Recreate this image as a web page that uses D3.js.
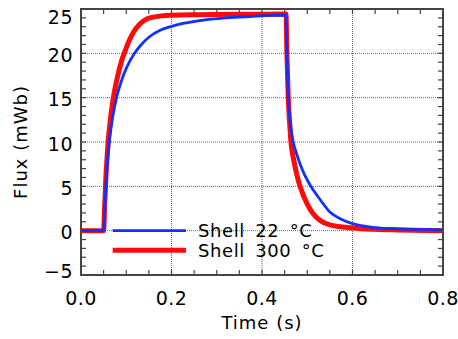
<!DOCTYPE html>
<html lang="en">
<head>
    <meta charset="UTF-8">
    <title>Flux vs Time</title>
    <script src="https://d3js.org/d3.v7.min.js"></script>
    <style>
        body { margin: 0; background: #fff; font-family: "DejaVu Sans", sans-serif; }
        .tick-label { font-size: 19px; fill: #000; letter-spacing: 0.5px; }
        .axis-title { font-size: 18px; fill: #000; letter-spacing: 1px; }
        .legend-text { font-size: 18px; fill: #000; letter-spacing: 0.6px; word-spacing: 4px; }
    </style>
</head>
<body>
    <svg id="chart" width="458" height="339"></svg>

    <script>
        // readings
        const blueTime = [0, 0.05, 0.053, 0.057, 0.0626, 0.07, 0.08, 0.09, 0.1, 0.1157, 0.13, 0.152, 0.175, 0.2, 0.263, 0.32, 0.373, 0.453,
                          0.455, 0.458, 0.463, 0.469, 0.475, 0.485, 0.495, 0.508, 0.53, 0.55, 0.575, 0.6, 0.65, 0.7, 0.8];
        const blueFlux = [0, 0, 3, 6.8, 10, 12.8, 15.3, 17.0, 18.3, 19.8, 20.8, 21.9, 22.6, 23.05, 23.7, 24.0, 24.15, 24.3,
                          20, 15, 12, 10, 8.9, 7.4, 6.2, 5, 3.4, 2.1, 1.3, 0.8, 0.35, 0.2, 0.1];
        const redTime = [0, 0.05, 0.052, 0.055, 0.06, 0.065, 0.0715, 0.08, 0.09, 0.097, 0.108, 0.115, 0.13, 0.152, 0.2, 0.263, 0.35, 0.453,
                         0.455, 0.458, 0.461, 0.464, 0.47, 0.477, 0.484, 0.5, 0.513, 0.53, 0.55, 0.6, 0.65, 0.7, 0.8];
        const redFlux = [0, 0, 2.5, 6, 10, 12.6, 15, 17.2, 19.2, 20.2, 21.6, 22.3, 23.3, 24.0, 24.3, 24.35, 24.4, 24.45,
                         20, 15, 12.2, 10, 8.0, 6.3, 5, 3.0, 1.9, 1.1, 0.65, 0.3, 0.15, 0.08, 0];
        const seriesNames = ["Shell 22 \u00B0C", "Shell 300 \u00B0C"];
        const seriesColors = ["#1030ff", "#ff0a0a"];
        const xTicks = [0, 0.2, 0.4, 0.6, 0.8];
        const yTicks = [-5, 0, 5, 10, 15, 20, 25];

        const svg = d3.select("#chart"),
              margin = { top: 9, right: 15, bottom: 64, left: 81 },
              width = +svg.attr("width"),
              height = +svg.attr("height");

        const x = d3.scaleLinear().domain([0, 0.8]).range([margin.left, width - margin.right]);
        const y = d3.scaleLinear().domain([-5, 25]).range([height - margin.bottom, margin.top]);

        const x0 = x.range()[0], x1 = x.range()[1], y0 = y.range()[0], y1 = y.range()[1];

        // dotted grid
        svg.append("g").selectAll("line")
            .data(xTicks.filter(d => d > 0 && d < 0.8))
            .join("line")
            .attr("x1", d => x(d)).attr("x2", d => x(d))
            .attr("y1", y1).attr("y2", y0)
            .attr("stroke", "#666").attr("stroke-width", 1).attr("stroke-dasharray", "1,1");
        svg.append("g").selectAll("line")
            .data(yTicks.filter(d => d > -5 && d < 25))
            .join("line")
            .attr("x1", x0).attr("x2", x1)
            .attr("y1", d => y(d)).attr("y2", d => y(d))
            .attr("stroke", "#666").attr("stroke-width", 1).attr("stroke-dasharray", "1,1");

        // inward ticks on all four sides
        const tl = 5;
        const xMinor = d3.range(0, 0.8001, 0.05);
        const yMinor = d3.range(-5, 25.001, 1);
        const tg = svg.append("g").attr("stroke", "#444").attr("stroke-width", 1.2);
        xMinor.forEach(t => {
            tg.append("line").attr("x1", x(t)).attr("x2", x(t)).attr("y1", y0).attr("y2", y0 - tl);
            tg.append("line").attr("x1", x(t)).attr("x2", x(t)).attr("y1", y1).attr("y2", y1 + tl);
        });
        yMinor.forEach(v => {
            tg.append("line").attr("x1", x0).attr("x2", x0 + tl).attr("y1", y(v)).attr("y2", y(v));
            tg.append("line").attr("x1", x1).attr("x2", x1 - tl).attr("y1", y(v)).attr("y2", y(v));
        });

        // curves
        const line = d3.line().x(d => x(d[0])).y(d => y(d[1])).curve(d3.curveMonotoneX);
        const blue = blueTime.map((t, i) => [t, blueFlux[i]]);
        const red = redTime.map((t, i) => [t, redFlux[i]]);

        const plot = svg.append("g");
        plot.append("path").datum(red).attr("d", line)
            .attr("fill", "none").attr("stroke", seriesColors[1]).attr("stroke-width", 5).attr("stroke-linejoin", "round");
        plot.append("path").datum(blue).attr("d", line)
            .attr("fill", "none").attr("stroke", seriesColors[0]).attr("stroke-width", 2.8).attr("stroke-linejoin", "round");

        // frame
        svg.append("rect")
            .attr("x", x0).attr("y", y1).attr("width", x1 - x0).attr("height", y0 - y1)
            .attr("fill", "none").attr("stroke", "#444").attr("stroke-width", 2);

        // tick labels
        svg.append("g").selectAll("text")
            .data(xTicks).join("text")
            .attr("class", "tick-label")
            .attr("x", d => x(d)).attr("y", y0 + 30)
            .attr("text-anchor", "middle")
            .text(d => d.toFixed(1));
        svg.append("g").selectAll("text")
            .data(yTicks).join("text")
            .attr("class", "tick-label")
            .attr("x", x0 - 8).attr("y", d => Math.max(y1 + 8, Math.min(y0 - 4, y(d) + 1.5)) + 7)
            .attr("text-anchor", "end")
            .text(d => d < 0 ? "\u2212" + Math.abs(d) : d);

        // axis titles
        svg.append("text").attr("class", "axis-title")
            .attr("x", (x0 + x1) / 2).attr("y", 329)
            .attr("text-anchor", "middle")
            .text("Time (s)");
        svg.append("text").attr("class", "axis-title")
            .attr("transform", `translate(27,${(y0 + y1) / 2}) rotate(-90)`)
            .attr("text-anchor", "middle")
            .text("Flux (mWb)");

        // legend
        const lg = svg.append("g");
        const legendRows = [0, -2.2];
        seriesNames.forEach((name, i) => {
            const ly = y(legendRows[i]);
            lg.append("line").attr("x1", x(0.07)).attr("x2", x(0.232)).attr("y1", ly).attr("y2", ly)
                .attr("stroke", seriesColors[i]).attr("stroke-width", i === 0 ? 2.8 : 5);
            lg.append("text").attr("class", "legend-text")
                .attr("x", 198).attr("y", ly + 6.5)
                .text(name);
        });
    </script>
</body>
</html>
